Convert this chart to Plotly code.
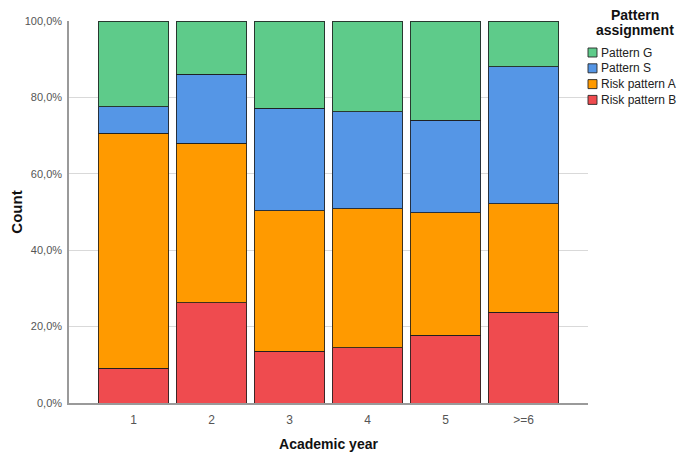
import plotly.graph_objects as go

years = ["1", "2", "3", "4", "5", ">=6"]
risk_b = [9.1, 26.2, 13.6, 14.5, 17.7, 23.7]
risk_a = [61.5, 41.8, 36.7, 36.3, 32.1, 28.4]
pattern_s = [7.0, 18.0, 26.8, 25.5, 24.2, 35.9]
pattern_g = [22.4, 14.0, 22.9, 23.7, 26.0, 12.0]
y_ticks = [0, 20, 40, 60, 80, 100]
y_tick_labels = ["0,0%", "20,0%", "40,0%", "60,0%", "80,0%", "100,0%"]

series = [
    ("Risk pattern B", risk_b, "#EF4B4F"),
    ("Risk pattern A", risk_a, "#FF9A00"),
    ("Pattern S", pattern_s, "#5596E6"),
    ("Pattern G", pattern_g, "#5ECB8A"),
]

# the page has an 8px body margin: size the figure so it fits the 685x460 window
OFF = 8
W, H = 685 - 2 * OFF, 460 - 2 * OFF
L, T = 69 - OFF, 21 - OFF
R = W - (588 - OFF)
B = H - (403 - OFF)
PW, PH = W - L - R, H - T - B


def px_x(px):
    # screen pixel -> paper coordinate
    return (px - OFF - L) / PW


def px_y(py):
    return (H - B - (py - OFF)) / PH


fig = go.Figure()
for name, vals, col in series:
    fig.add_trace(go.Bar(
        x=years, y=vals, name=name, showlegend=False,
        marker=dict(color=col, line=dict(color="rgba(30,30,30,0.85)", width=1)),
    ))

font = "Liberation Sans, Arial, sans-serif"

# manual legend (top to bottom: G, S, A, B)
shapes = []
annotations = []
for i, (name, vals, col) in enumerate(reversed(series)):
    cy = 52.5 + i * 15.8
    shapes.append(dict(
        type="rect", xref="paper", yref="paper",
        x0=px_x(588), x1=px_x(597), y0=px_y(cy - 4.5), y1=px_y(cy + 4.5),
        fillcolor=col, line=dict(color="rgba(40,40,40,0.9)", width=1),
    ))
    annotations.append(dict(
        text=name, xref="paper", yref="paper",
        x=px_x(599), y=px_y(cy), xanchor="left", yanchor="middle",
        showarrow=False, font=dict(size=12, color="#222", family=font),
    ))
for txt, cy in (("<b>Pattern</b>", 15.5), ("<b>assignment</b>", 30)):
    annotations.append(dict(
        text=txt, xref="paper", yref="paper",
        x=px_x(635), y=px_y(cy), xanchor="center", yanchor="middle",
        showarrow=False, font=dict(size=14, color="#111", family=font),
    ))

fig.update_layout(
    barmode="stack",
    bargap=0.09,
    width=W, height=H,
    margin=dict(l=L, r=R, t=T, b=B, autoexpand=False),
    paper_bgcolor="white", plot_bgcolor="white",
    font=dict(family=font, color="#333"),
    showlegend=False,
    shapes=shapes,
    annotations=annotations,
    xaxis=dict(
        type="category", range=[-0.827, 5.827],
        showline=True, linecolor="#9a9a9a", linewidth=1.5,
        showgrid=False, ticks="", automargin=False,
        tickfont=dict(size=12, color="#555"),
        ticklabelstandoff=5,
        title=dict(text="<b>Academic year</b>", font=dict(size=14, color="#111"), standoff=17),
    ),
    yaxis=dict(
        range=[0, 100], tickvals=y_ticks, ticktext=y_tick_labels,
        showline=True, linecolor="#9a9a9a", linewidth=1.5,
        showgrid=True, gridcolor="#d9d9d9", gridwidth=1,
        zeroline=False, ticks="", automargin=False,
        tickfont=dict(size=11, color="#555"),
        ticklabelstandoff=3,
        title=dict(text="<b>Count</b>", font=dict(size=15, color="#111"), standoff=3),
    ),
)

fig.write_html("out.html")
